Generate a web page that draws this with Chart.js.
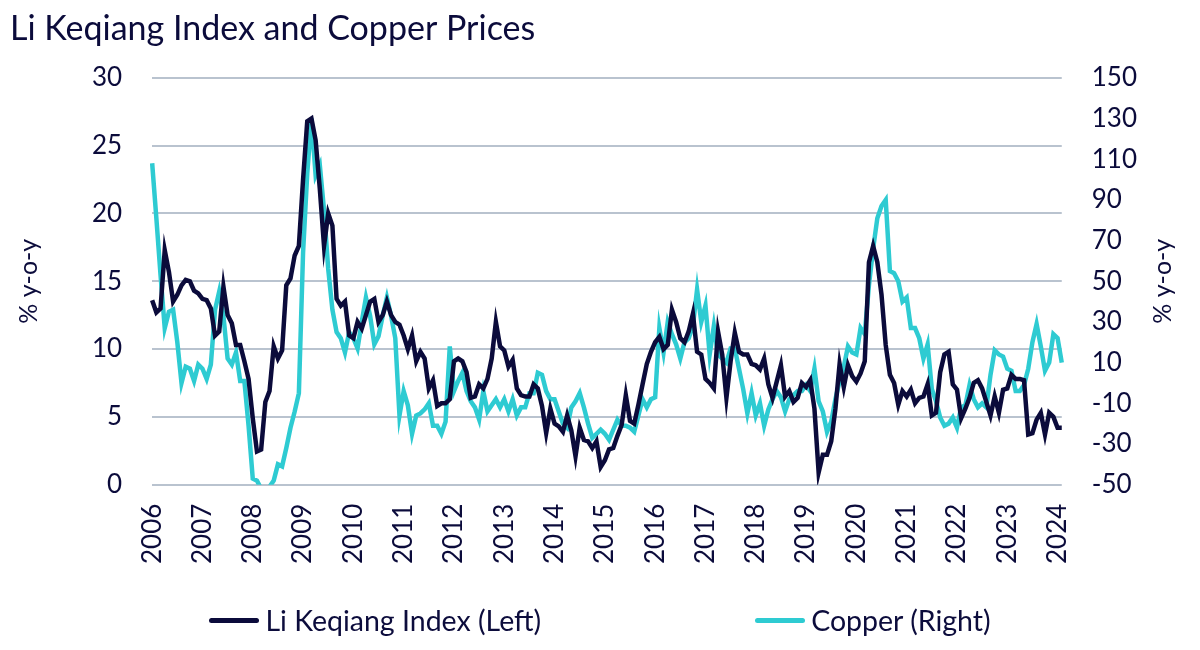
<!DOCTYPE html>
<html>
<head>
<meta charset="utf-8">
<script src="https://cdn.jsdelivr.net/npm/chart.js@4.4.1/dist/chart.umd.min.js"></script>
<style>
  html, body { margin: 0; padding: 0; background: #fff; }
  #wrap { position: relative; width: 1200px; height: 650px; }
  #legend {
    position: absolute; left: 0; top: 603px; width: 1200px;
    display: flex; justify-content: center; gap: 214px;
    font-family: Lato, sans-serif; font-size: 28.5px; color: #0c0c3c;
  }
  #legend .item { display: flex; align-items: center; }
  #legend .swatch { width: 50px; height: 5px; border-radius: 3px; margin-right: 6px; }
</style>
</head>
<body>
<div id="wrap">
  <canvas id="chart" width="1200" height="650"></canvas>
  <div id="legend"></div>
</div>
<script>
// monthly, Jan 2006 .. Feb 2024
const months = []
for (let y = 2006; y <= 2024; y++) {
  for (let m = 1; m <= 12; m++) {
    if (y === 2024 && m > 2) break
    months.push(y + '-' + String(m).padStart(2, '0'))
  }
}

// Li Keqiang index, % y-o-y (left axis)
const liKeqiang = [
  13.6, 12.7, 13.0, 17.3, 15.7, 13.5, 14.0, 14.7, 15.1, 15.0, 14.3, 14.1,
  13.7, 13.6, 13.0, 11.0, 11.3, 14.6, 12.5, 11.9, 10.3, 10.3, 9.1, 7.8,
  4.9, 2.45, 2.6, 6.1, 6.9, 10.2, 9.3, 9.9, 14.7, 15.2, 16.9, 17.6,
  22.5, 26.8, 27.0, 25.4, 21.8, 17.6, 20.0, 19.1, 13.7, 13.2, 13.5, 11.0,
  10.8, 12.0, 11.5, 12.5, 13.5, 13.7, 12.0, 12.5, 13.5, 12.5, 12.0, 11.8,
  11.0, 10.0, 11.0, 9.1, 9.8, 9.3, 7.1, 7.7, 5.8, 6.0, 6.0, 6.3,
  9.1, 9.3, 9.1, 8.3, 6.4, 6.5, 7.4, 7.1, 7.8, 9.3, 12.0, 10.2,
  9.9, 8.7, 9.2, 7.1, 6.6, 6.5, 6.5, 7.4, 7.1, 5.8, 3.8, 5.6,
  4.5, 4.3, 3.9, 5.1, 4.0, 2.1, 4.2, 3.3, 3.2, 2.7, 3.2, 1.3,
  1.8, 2.6, 2.7, 3.6, 4.4, 6.6, 4.7, 4.5, 5.9, 7.4, 8.9, 9.8,
  10.5, 10.9, 10.0, 10.3, 12.9, 12.0, 10.8, 10.5, 11.3, 12.6, 9.8, 9.6,
  7.8, 7.5, 7.1, 11.3, 9.6, 6.4, 9.1, 11.2, 9.8, 9.6, 9.6, 8.9,
  8.8, 8.5, 9.3, 7.4, 6.4, 7.6, 8.8, 6.5, 6.9, 6.1, 6.4, 7.5,
  7.2, 7.7, 5.6, 0.9, 2.2, 2.2, 3.2, 5.6, 8.9, 7.2, 8.8, 8.0,
  7.6, 8.2, 9.1, 16.4, 17.6, 16.4, 14.0, 10.3, 8.1, 7.5, 5.9, 6.9,
  6.5, 7.0, 6.0, 6.4, 6.5, 7.4, 5.1, 5.3, 8.3, 9.6, 9.8, 7.4,
  7.0, 4.9, 5.6, 6.4, 7.5, 7.7, 7.1, 6.1, 5.1, 6.5, 5.3, 7.0,
  7.1, 8.1, 7.8, 7.8, 7.7, 3.7, 3.8, 4.8, 5.3, 3.7, 5.3, 5.0,
  4.2, 4.2
]

// copper price, % y-o-y (right axis)
const copper = [
  108, 81, 53, 27, 35, 36, 20, 0, 8, 7, 1, 9,
  7, 2, 9, 36, 45, 33, 12, 9, 15, 1, 1, -21,
  -47, -48, -52, -52, -51, -48, -40, -41, -32, -22, -14, -5,
  64, 103, 130, 102, 107, 85, 56, 36, 25, 22, 15, 25,
  22, 17, 30, 42, 33, 19, 23, 33, 42, 33, 22, -16,
  -4, -11, -25, -16, -15, -13, -10, -21, -21, -25, -19, 18,
  -4, 1, 5, -4, -9, -12, -18, -4, -14, -11, -8, -12,
  -8, -14, -8, -16, -12, -12, -5, -5, 5, 4, -4, -8,
  -8, -14, -20, -22, -12, -9, -5, -12, -20, -27, -25, -23,
  -25, -28, -23, -18, -21, -21, -22, -24, -16, -8, -12, -8,
  -7, 27, 15, 30, 24, 19, 12, 20, 22, 28, 46, 30,
  38, 14, 28, 14, 12, 10, 17, 17, 7, -3, -15, -5,
  -16, -10, -21, -13, -8, -4, -7, -14, -8, -6, -4, -4,
  -1, -4, 7, -9, -14, -24, -19, -8, 1, 8, 18, 15,
  14, 27, 24, 48, 66, 81, 87, 90, 55, 54, 50, 40,
  42, 27, 27, 22, 12, 19, -3, -9, -17, -21, -20, -17,
  -22, -12, -11, -1, -8, -12, -10, -12, 4, 16, 14, 13,
  7, 6, -4, -4, -1, 7, 20, 29, 18, 6, 10, 24,
  22, 10
]

const NAVY = '#0b0b3b'
const TEAL = '#2ecbd2'
const GRID = '#b9c3cf'
const FONT = 'Lato, sans-serif'

// right axis title reads bottom-to-top like the left one
const rightTitle = {
  id: 'rightTitle',
  afterDraw(chart) {
    const {ctx, chartArea} = chart
    ctx.save()
    ctx.translate(1163, (chartArea.top + chartArea.bottom) / 2)
    ctx.rotate(-Math.PI / 2)
    ctx.font = '25px ' + FONT
    ctx.fillStyle = NAVY
    ctx.textAlign = 'center'
    ctx.textBaseline = 'middle'
    ctx.fillText('% y-o-y', 0, 0)
    ctx.restore()
  }
}

const chart = new Chart(document.getElementById('chart'), {
  type: 'line',
  data: {
    labels: months,
    datasets: [{
      label: 'Li Keqiang Index (Left)',
      data: liKeqiang,
      borderColor: NAVY,
      backgroundColor: NAVY,
      borderWidth: 4.5,
      pointRadius: 0,
      tension: 0,
      yAxisID: 'y'
    }, {
      label: 'Copper (Right)',
      data: copper,
      borderColor: TEAL,
      backgroundColor: TEAL,
      borderWidth: 4.5,
      pointRadius: 0,
      tension: 0,
      yAxisID: 'y1'
    }]
  },
  options: {
    responsive: false,
    animation: false,
    layout: { padding: { left: 10, right: 33, top: 0, bottom: 67 } },
    plugins: {
      legend: { display: false },
      tooltip: { enabled: false },
      title: {
        display: true,
        text: 'Li Keqiang Index and Copper Prices',
        align: 'start',
        color: NAVY,
        font: { family: FONT, size: 34, weight: 'normal' },
        padding: { top: 9, bottom: 28 }
      }
    },
    scales: {
      x: {
        grid: { display: false, drawTicks: false },
        border: { display: false },
        ticks: {
          autoSkip: false,
          maxRotation: 90,
          minRotation: 90,
          padding: 19,
          color: NAVY,
          font: { family: FONT, size: 26 },
          callback: (v, i) => i % 12 === 0 ? months[i].slice(0, 4) : ''
        }
      },
      y: {
        position: 'left',
        min: 0,
        max: 30,
        grid: { color: GRID, lineWidth: 2, drawTicks: false },
        border: { display: false },
        ticks: { stepSize: 5, padding: 30, color: NAVY, font: { family: FONT, size: 26 } },
        title: {
          display: true,
          text: '% y-o-y',
          color: NAVY,
          font: { family: FONT, size: 25 },
          padding: { top: 4, bottom: 18 }
        }
      },
      y1: {
        position: 'right',
        min: -50,
        max: 150,
        grid: { display: false, drawTicks: false },
        border: { display: false },
        ticks: { stepSize: 20, padding: 30, color: NAVY, font: { family: FONT, size: 26 } }
      }
    }
  },
  plugins: [rightTitle]
})

// legend below the chart, built from the datasets
const legend = document.getElementById('legend')
chart.data.datasets.forEach(ds => {
  const item = document.createElement('div')
  item.className = 'item'
  const sw = document.createElement('span')
  sw.className = 'swatch'
  sw.style.background = ds.borderColor
  const txt = document.createElement('span')
  txt.textContent = ds.label
  item.appendChild(sw)
  item.appendChild(txt)
  legend.appendChild(item)
})
</script>
</body>
</html>
